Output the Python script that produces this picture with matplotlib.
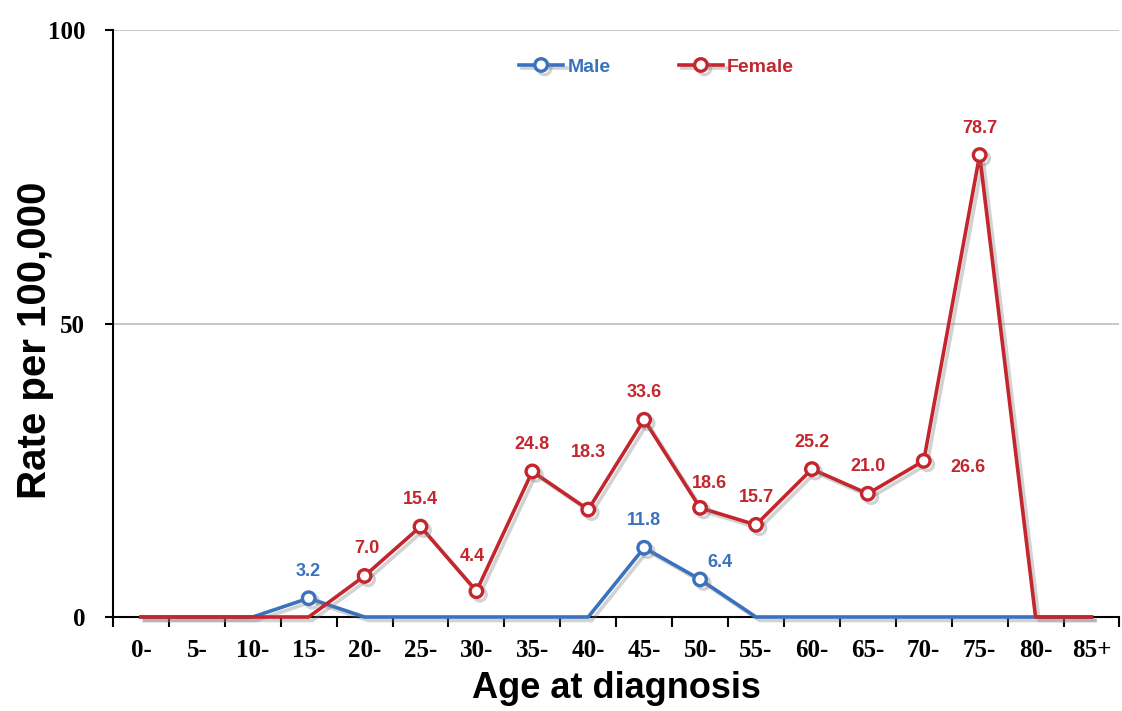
import matplotlib
matplotlib.use("Agg")
import matplotlib.pyplot as plt
import matplotlib.patheffects as pe
import numpy as np

# age groups and rates per 100,000
age_groups = ['0-', '5-', '10-', '15-', '20-', '25-', '30-', '35-', '40-',
              '45-', '50-', '55-', '60-', '65-', '70-', '75-', '80-', '85+']
male = [0, 0, 0, 3.2, 0, 0, 0, 0, 0, 11.8, 6.4, 0, 0, 0, 0, 0, 0, 0]
female = [0, 0, 0, 0, 7.0, 15.4, 4.4, 24.8, 18.3, 33.6, 18.6, 15.7, 25.2,
          21.0, 26.6, 78.7, 0, 0]

blue = '#3B72BE'
red = '#C4262E'

# label offsets in pixels (dx, dy), default is straight above
male_off = {10: (20, 17)}
female_off = {4: (2, 27), 6: (-4, 35), 8: (0, 57), 10: (9, 24), 14: (44, -7)}

fig = plt.figure(figsize=(11.22, 7.11), dpi=100)
ax = fig.add_axes([0.1007, 0.1322, 0.897, 0.8256])

x = np.arange(len(age_groups))
shadow = [pe.SimpleLineShadow(offset=(2.5, -2.5), shadow_color='gray', alpha=0.35), pe.Normal()]

for vals, col, name, offs in [(male, blue, 'Male', male_off), (female, red, 'Female', female_off)]:
    marks = [i for i, v in enumerate(vals) if v > 0]
    ax.plot(x, vals, color=col, lw=2.6, marker='o', ms=9, mfc='white', mec=col,
            mew=2.4, markevery=marks, label=name, path_effects=shadow, clip_on=False, zorder=3)
    for i in marks:
        dx, dy = offs.get(i, (0, 27))
        ax.annotate(f'{vals[i]:.1f}', (x[i], vals[i]), xytext=(dx, dy),
                    textcoords='offset pixels', ha='center', va='center',
                    color=col, fontsize=13, fontweight='bold', family='Liberation Sans')

ax.set_xlim(-0.5, 17.5)
ax.set_ylim(0, 100)
ax.set_yticks([0, 50, 100])
ax.yaxis.grid(True, color='#BDBDBD', lw=1.2)
ax.set_axisbelow(True)

ax.set_xticks(x)
ax.set_xticklabels(age_groups)
ax.set_xticks(np.arange(-0.5, 18, 1), minor=True)
ax.tick_params(axis='x', which='major', length=0, pad=16)
ax.tick_params(axis='x', which='minor', length=7, width=1.5, direction='out')
ax.tick_params(axis='y', length=6, width=1.5, pad=14)
for lab in ax.get_xticklabels() + ax.get_yticklabels():
    lab.set_family('Liberation Serif')
    lab.set_fontweight('bold')
    lab.set_fontsize(18)

for s in ['top', 'right']:
    ax.spines[s].set_visible(False)
for s in ['left', 'bottom']:
    ax.spines[s].set_linewidth(1.5)
    ax.spines[s].set_zorder(2)

ax.set_xlabel('Age at diagnosis', family='Liberation Sans', fontweight='bold', fontsize=26, labelpad=6)
ax.set_ylabel('Rate per 100,000', family='Liberation Sans', fontweight='bold', fontsize=29)
ax.yaxis.set_label_coords(-0.077, 0.472)
ax.yaxis.label.set_va('center')

leg = ax.legend(loc='center', bbox_to_anchor=(0.54, 0.937), ncol=2, frameon=False,
                handlelength=2.3, columnspacing=3.5, handletextpad=0.2,
                prop={'family': 'Liberation Sans', 'weight': 'bold', 'size': 14})
for t, c in zip(leg.get_texts(), [blue, red]):
    t.set_color(c)

fig.savefig('out.png', dpi=100)
